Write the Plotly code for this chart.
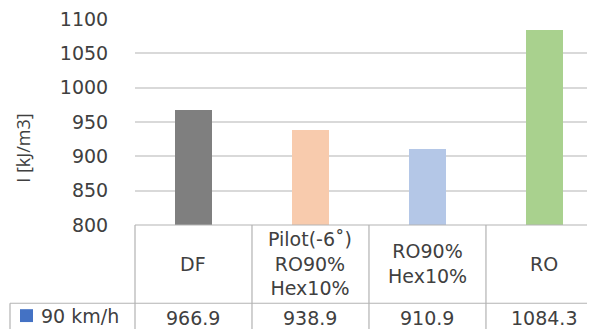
import plotly.graph_objects as go

categories = ["DF", "Pilot(-6˚)<br>RO90%<br>Hex10%", "RO90%<br>Hex10%", "RO"]
values = [966.9, 938.9, 910.9, 1084.3]
value_labels = ["966.9", "938.9", "910.9", "1084.3"]
series_name = "90 km/h"
bar_colors = ["#7f7f7f", "#f8cbad", "#b4c7e7", "#a9d18e"]
series_color = "#4472c4"
y_ticks = [800, 850, 900, 950, 1000, 1050, 1100]

OFF = 8  # page body margin
W, H = 595 - OFF, 329 - OFF
ML, MR, MT, MB = 135 - OFF, 0, 17 - OFF, 329 - 225
PW, PH = W - ML - MR, H - MT - MB
XR = [-0.5, 3.432]

def px_x(px):
    return (px - OFF - ML) / PW

def px_y(py):
    return (H - MB - (py - OFF)) / PH

def dx(v):
    return (v - XR[0]) / (XR[1] - XR[0])

font = "DejaVu Sans"
tc = "#404040"
lc = "#b3b3b3"

fig = go.Figure()
fig.add_trace(go.Bar(
    x=list(range(len(values))), y=values, marker=dict(color=bar_colors, line=dict(width=0)),
    width=0.315, name=series_name, showlegend=False, hoverinfo="skip",
))

shapes = []
def line(x0, y0, x1, y1):
    shapes.append(dict(type="line", xref="paper", yref="paper", x0=x0, y0=y0, x1=x1, y1=y1,
                       line=dict(color=lc, width=1.2), layer="above"))

row_y = px_y(304)
bot = px_y(335)
line(0, 0, 1, 0)                      # table top
line(px_x(10), row_y, 1, row_y)       # between rows
line(0, 0, 0, bot)                    # left of categories
line(px_x(10), row_y, px_x(10), bot)  # legend cell left
for i in range(len(categories) - 1):
    line(dx(i + 0.5), 0, dx(i + 0.5), bot)

# legend key
shapes.append(dict(type="rect", xref="paper", yref="paper",
                   x0=px_x(20), x1=px_x(33), y0=px_y(310), y1=px_y(323),
                   fillcolor=series_color, line=dict(width=0)))

annotations = []
for i, (c, v) in enumerate(zip(categories, value_labels)):
    annotations.append(dict(x=i, xref="x", y=px_y(264), yref="paper", text=c, showarrow=False,
                            xanchor="center", yanchor="middle", font=dict(family=font, size=19, color=tc)))
    annotations.append(dict(x=i, xref="x", y=px_y(319), yref="paper", text=v, showarrow=False,
                            xanchor="center", yanchor="middle", font=dict(family=font, size=19, color=tc)))
annotations.append(dict(x=px_x(39), xref="paper", y=px_y(317), yref="paper", text=series_name,
                        showarrow=False, xanchor="left", yanchor="middle",
                        font=dict(family=font, size=19, color=tc)))
annotations.append(dict(x=px_x(23), xref="paper", y=px_y(148), yref="paper", text="I [kJ/m3]",
                        showarrow=False, textangle=-90, xanchor="center", yanchor="middle",
                        font=dict(family="Open Sans", size=18, color=tc)))

fig.update_layout(
    width=W, height=H, margin=dict(l=ML, r=MR, t=MT, b=MB),
    paper_bgcolor="white", plot_bgcolor="white",
    bargap=0, showlegend=False,
    xaxis=dict(range=XR, showticklabels=False, showgrid=False, zeroline=False, showline=False, ticks=""),
    yaxis=dict(range=[800, 1100], tickvals=y_ticks, showgrid=True, gridcolor="#d9d9d9", gridwidth=1.5,
               zeroline=False, showline=False, ticks="outside", ticklen=22, tickcolor="rgba(0,0,0,0)",
               ticklabeloverflow="allow",
               tickfont=dict(family=font, size=19, color=tc)),
    shapes=shapes, annotations=annotations,
)
fig.write_html("out.html")
